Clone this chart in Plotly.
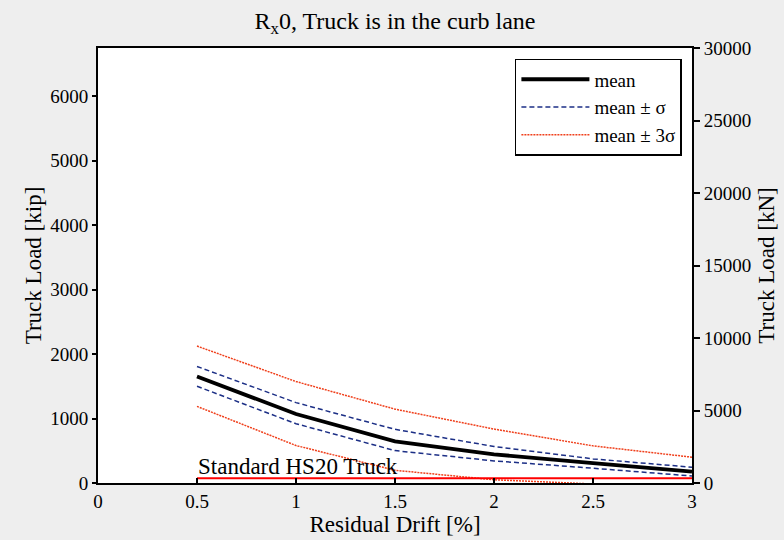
import plotly.graph_objects as go

# Residual drift levels [%]
drift = [0.5, 1.0, 1.5, 2.0, 2.5, 3.0]

# Truck load capacity [kip]
load_mean = [1651, 1070, 645, 445, 307, 176]
load_plus_sigma = [1807, 1246, 832, 566, 374, 245]
load_minus_sigma = [1500, 919, 502, 343, 229, 109]
load_plus_3sigma = [2123, 1573, 1145, 836, 576, 400]
load_minus_3sigma = [1188, 581, 197, 50, -15, -110]

# Reference vehicle
hs20_drift = [0.5, 3.0]
hs20_load = [72, 72]
hs20_label = "Standard HS20 Truck"

KIP_TO_KN = 4.448222
KN_MAX = 30000
kip_ticks = [0, 1000, 2000, 3000, 4000, 5000, 6000]
kn_ticks = [0, 5000, 10000, 15000, 20000, 25000, 30000]
kn_ticklabels = [str(v) for v in kn_ticks]
x_ticks = [0, 0.5, 1, 1.5, 2, 2.5, 3]
x_ticklabels = ["0", "0.5", "1", "1.5", "2", "2.5", "3"]

FONT = "Liberation Serif, Times New Roman, serif"
BLUE = "#1c2f86"
RED3 = "#f0401c"

fig = go.Figure()

fig.add_trace(go.Scatter(
    x=drift, y=load_mean, mode="lines", name="mean",
    line=dict(color="black", width=3.8), legendgroup="m", legendrank=1,
))
fig.add_trace(go.Scatter(
    x=drift, y=load_plus_sigma, mode="lines", name="mean \u00b1 \u03c3",
    line=dict(color=BLUE, width=1.5, dash="5px,3px"), legendgroup="s", legendrank=2,
))
fig.add_trace(go.Scatter(
    x=drift, y=load_minus_sigma, mode="lines", name="mean \u00b1 \u03c3",
    line=dict(color=BLUE, width=1.5, dash="5px,3px"), legendgroup="s",
    showlegend=False,
))
fig.add_trace(go.Scatter(
    x=drift, y=load_plus_3sigma, mode="lines", name="mean \u00b1 3\u03c3",
    line=dict(color=RED3, width=1.5, dash="2px,1px"), legendgroup="t", legendrank=3,
))
fig.add_trace(go.Scatter(
    x=drift, y=load_minus_3sigma, mode="lines", name="mean \u00b1 3\u03c3",
    line=dict(color=RED3, width=1.5, dash="2px,1px"), legendgroup="t",
    showlegend=False,
))
fig.add_trace(go.Scatter(
    x=hs20_drift, y=hs20_load, mode="lines", name=hs20_label,
    line=dict(color="red", width=2), showlegend=False,
))
# Invisible trace to carry the kN axis
fig.add_trace(go.Scatter(
    x=[drift[0]], y=[0], yaxis="y2", mode="markers",
    marker=dict(opacity=0), showlegend=False, hoverinfo="skip",
))

fig.add_annotation(
    x=hs20_drift[0], y=hs20_load[0], text=hs20_label, showarrow=False,
    xanchor="left", yanchor="bottom", xshift=-1, yshift=-3,
    font=dict(family=FONT, size=23, color="black"),
)

fig.update_layout(
    width=784, height=540,
    margin=dict(l=98, r=92, t=48, b=57, autoexpand=False),
    paper_bgcolor="#eeeeee", plot_bgcolor="white",
    font=dict(family=FONT, size=19, color="black"),
    title=dict(
        text="R<sub>x</sub>0, Truck is in the curb lane",
        x=0.5, xref="paper", xanchor="center",
        y=0.962, yref="container", yanchor="middle",
        font=dict(family=FONT, size=24),
    ),
    xaxis=dict(
        range=[0, 3], tickvals=x_ticks, ticktext=x_ticklabels,
        ticks="inside", ticklen=5, tickwidth=1.5, tickcolor="black",
        showline=True, linecolor="black", linewidth=2, mirror=True,
        showgrid=False, zeroline=False, automargin=False,
        title=dict(text="Residual Drift [%]", font=dict(family=FONT, size=23), standoff=5),
        tickfont=dict(family=FONT, size=19),
    ),
    yaxis=dict(
        range=[0, KN_MAX / KIP_TO_KN], tickvals=kip_ticks,
        ticks="outside", ticklen=4, tickwidth=1.5, tickcolor="black",
        showline=True, linecolor="black", linewidth=2,
        showgrid=False, zeroline=False, automargin=False,
        title=dict(text="Truck Load [kip]", font=dict(family=FONT, size=23), standoff=2),
        tickfont=dict(family=FONT, size=19),
    ),
    yaxis2=dict(
        range=[0, KN_MAX], tickvals=kn_ticks, ticktext=kn_ticklabels,
        overlaying="y", side="right",
        ticks="outside", ticklen=6, tickwidth=1.5, tickcolor="black",
        showline=True, linecolor="black", linewidth=2,
        showgrid=False, zeroline=False, automargin=False,
        title=dict(text="Truck Load [kN]", font=dict(family=FONT, size=23), standoff=8),
        tickfont=dict(family=FONT, size=19),
    ),
    legend=dict(
        x=0.983, y=0.975, xanchor="right", yanchor="top",
        bgcolor="white", bordercolor="black", borderwidth=1.5,
        font=dict(family=FONT, size=19),
        traceorder="grouped", tracegroupgap=0, itemwidth=68,
    ),
    showlegend=True,
)

fig.write_html("out.html")
